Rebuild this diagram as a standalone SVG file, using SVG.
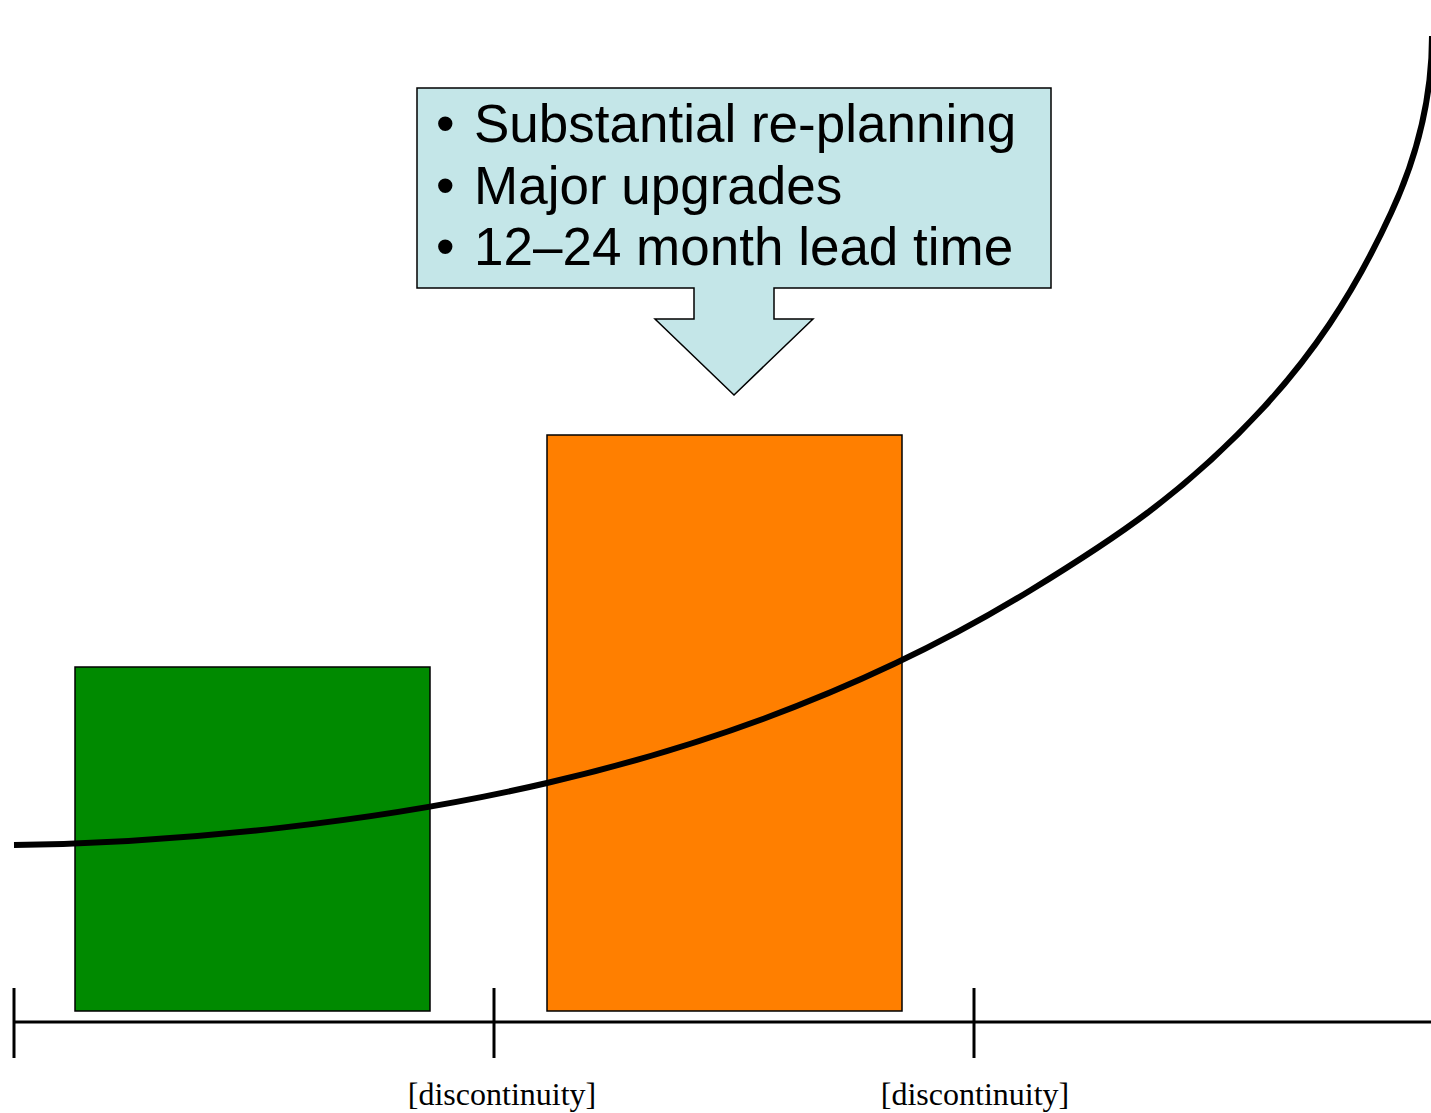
<svg xmlns="http://www.w3.org/2000/svg" width="1431" height="1113" viewBox="0 0 1431 1113">
<style>
.bar{stroke:#000;stroke-width:1.5}
.axis{stroke:#000;stroke-width:3;fill:none}
.callout{font-family:"Liberation Sans",Arial,sans-serif;font-size:53px;fill:#000}
.lbl{font-family:"Liberation Serif","Times New Roman",serif;font-size:32px;fill:#000;text-anchor:middle}
</style>
<rect width="1431" height="1113" fill="#fff"/>
<g id="bar-green"><rect class="bar" x="75" y="667" width="355" height="344" fill="#008a00"/></g>
<g id="bar-orange"><rect class="bar" x="547" y="435" width="355" height="576" fill="#ff7f00"/></g>
<g id="callout">
<polygon points="417,88 1051,88 1051,288 774,288 774,319 813,319 734,395 655,319 694,319 694,288 417,288" fill="#c4e6e8" stroke="#000" stroke-width="1.5"/>
<text class="callout"><tspan x="436" y="142">•</tspan><tspan x="474" y="142">Substantial re-planning</tspan></text>
<text class="callout"><tspan x="436" y="204">•</tspan><tspan x="474" y="204">Major upgrades</tspan></text>
<text class="callout"><tspan x="436" y="265">•</tspan><tspan x="474" y="265">12–24 month lead time</tspan></text>
</g>
<g id="connectors">
<path d="M14,845 C180,843 380,822 547,783 C707,746 871,688 1031,590 C1111,541 1184,494 1264,407 C1309,358 1351,300 1391,213 C1411,170 1432,110 1432,36" fill="none" stroke="#000" stroke-width="6"/>
<line class="axis" x1="14" y1="1022" x2="1431" y2="1022"/>
<line class="axis" x1="14" y1="988" x2="14" y2="1058"/>
<line class="axis" x1="494" y1="988" x2="494" y2="1058"/>
<line class="axis" x1="974" y1="988" x2="974" y2="1058"/>
</g>
<g id="labels">
<text class="lbl" x="502" y="1105">[discontinuity]</text>
<text class="lbl" x="975" y="1105">[discontinuity]</text>
</g>
</svg>
